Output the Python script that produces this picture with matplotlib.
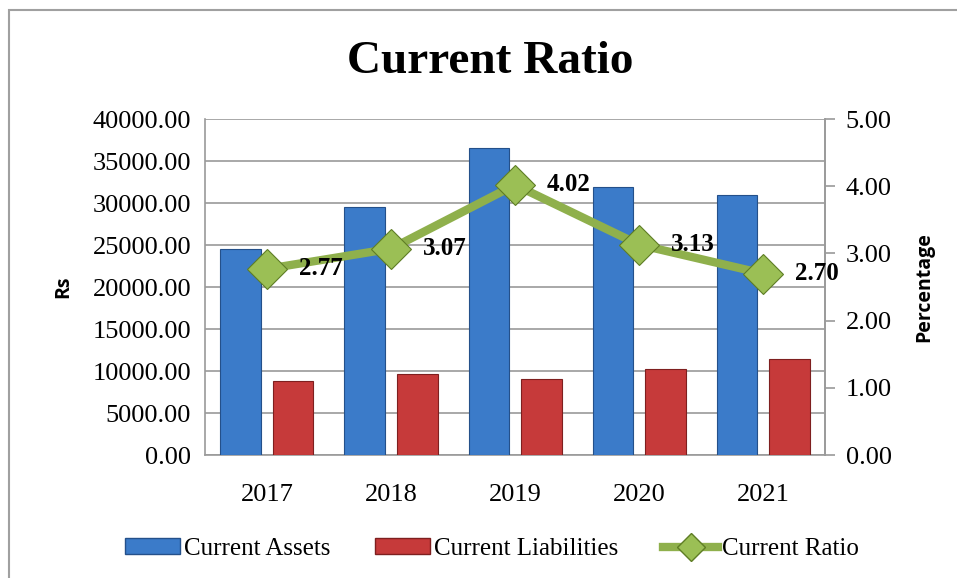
import matplotlib as mpl
mpl.use('Agg')
import matplotlib.pyplot as plt
import numpy as np
from matplotlib.lines import Line2D
from matplotlib.patches import Rectangle

# ── data ─────────────────────────────────────────────────────────────────
years = ['2017', '2018', '2019', '2020', '2021']
current_assets = [24500, 29500, 36500, 31900, 30950]
current_liabilities = [8810, 9640, 9080, 10200, 11460]
current_ratio = [2.77, 3.07, 4.02, 3.13, 2.70]

BLUE = '#3B7BC9'
BLUE_EDGE = '#24508A'
RED = '#C63A3A'
RED_EDGE = '#7E1F1F'
GREEN = '#8FB04C'
GREEN_EDGE = '#5E7D25'
GRID = '#9A9A9A'

SERIF = 'Liberation Serif'

mpl.rcParams.update({
    'font.family': SERIF,
    'axes.unicode_minus': False,
})

fig = plt.figure(figsize=(9.57, 5.78), dpi=100)
ax = fig.add_axes([0.2142, 0.2128, 0.6479, 0.5813])
ax2 = ax.twinx()

x = np.arange(len(years))
w = 0.33
ax.bar(x - 0.21, current_assets, w, color=BLUE, edgecolor=BLUE_EDGE,
       linewidth=0.8, zorder=3, label='Current Assets')
ax.bar(x + 0.21, current_liabilities, w, color=RED, edgecolor=RED_EDGE,
       linewidth=0.8, zorder=3, label='Current Liabilities')

ax.set_xlim(-0.5, len(years) - 0.5)
ax.set_ylim(0, 40000)
ax.set_yticks(np.arange(0, 40001, 5000))
ax.set_yticklabels([f'{v:.2f}' for v in np.arange(0, 40001, 5000)])
ax.set_xticks(x)
ax.set_xticklabels(years)
ax.yaxis.grid(True, color=GRID, linewidth=1.2, zorder=0)
ax.set_axisbelow(True)
ax.tick_params(axis='y', length=0, pad=10, labelsize=19)
ax.tick_params(axis='x', length=0, pad=21, labelsize=19)
ax.spines['top'].set_visible(False)
for side in ['left', 'bottom', 'right']:
    ax.spines[side].set_color(GRID)
    ax.spines[side].set_linewidth(1.2)
ax.set_ylabel('Rs', family='Open Sans', fontweight='bold', fontsize=14,
              labelpad=14)

# ── ratio line on secondary axis ─────────────────────────────────────────
ax2.plot(x, current_ratio, color=GREEN, linewidth=6, marker='D',
         markersize=20, markerfacecolor='#9BBF55', markeredgecolor=GREEN_EDGE,
         markeredgewidth=0.8, zorder=5, label='Current Ratio')
for xi, v in zip(x, current_ratio):
    ax2.annotate(f'{v:.2f}', xy=(xi, v), xytext=(23, 0),
                 textcoords='offset points', ha='left', va='center',
                 fontsize=18, fontweight='bold', zorder=6)
ax2.set_ylim(0, 5)
ax2.set_yticks(np.arange(0, 5.01, 1))
ax2.set_yticklabels([f'{v:.2f}' for v in np.arange(0, 5.01, 1)])
ax2.tick_params(axis='y', length=7, width=1.2, color=GRID, pad=8,
                labelsize=19)
for side in ['top', 'left', 'bottom']:
    ax2.spines[side].set_visible(False)
ax2.spines['right'].set_color(GRID)
ax2.spines['right'].set_linewidth(1.2)
ax2.set_ylabel('Percentage', family='Open Sans', fontweight='bold',
               fontsize=14, labelpad=16)
ax.set_zorder(1)
ax2.set_zorder(2)
ax2.patch.set_visible(False)

# ── title, legend, outer frame ───────────────────────────────────────────
fig.text(0.512, 0.893, 'Current Ratio', ha='center', va='center',
         fontsize=34, fontweight='bold')

handles = [
    Rectangle((0, 0), 1, 1, facecolor=BLUE, edgecolor=BLUE_EDGE),
    Rectangle((0, 0), 1, 1, facecolor=RED, edgecolor=RED_EDGE),
    Line2D([], [], color=GREEN, linewidth=6, marker='D', markersize=14,
           markerfacecolor='#9BBF55', markeredgecolor=GREEN_EDGE),
]
labels = ['Current Assets', 'Current Liabilities', 'Current Ratio']
fig.legend(handles, labels, loc='center', bbox_to_anchor=(0.514, 0.05),
           ncol=3, frameon=False, fontsize=18, handlelength=2.2,
           handleheight=0.6, handletextpad=0.15, columnspacing=1.8)

fig.patches.append(Rectangle((9 / 957, -0.1), 1.2, 1 - 10 / 578 + 0.1,
                             transform=fig.transFigure, fill=False,
                             edgecolor='#A0A0A0', linewidth=1.5))

fig.savefig('out.png', dpi=100)
